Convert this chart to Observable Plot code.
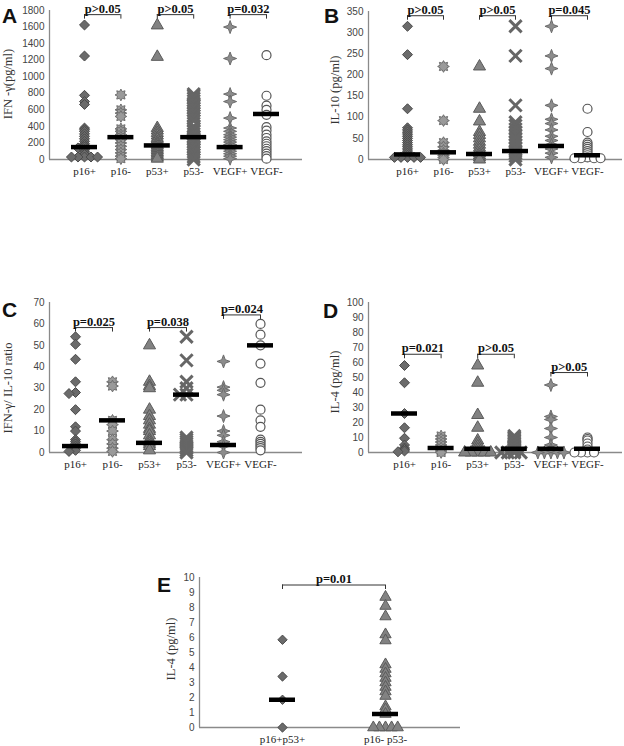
<!DOCTYPE html>
<html>
<head>
<meta charset="utf-8">
<script src="https://cdn.jsdelivr.net/npm/d3@7"></script>
<script src="https://cdn.jsdelivr.net/npm/@observablehq/plot@0.6"></script>
<style>
  html, body { margin: 0; padding: 0; background: #fff; }
  #fig { position: relative; width: 624px; height: 746px; overflow: hidden; }
  .panel { position: absolute; }
  .letter { position: absolute; font: bold 21px "Liberation Sans", Arial, sans-serif; line-height: 1; color: #111; }
  .ytitle { position: absolute; font: 12.5px "Liberation Serif", "Times New Roman", serif; color: #333; white-space: nowrap; transform: translate(-50%, -50%) rotate(-90deg); line-height: 1; }
</style>
</head>
<body>
<div id="fig"></div>
<script>
// ---------- categories ----------
const mainCats = ["p16+", "p16-", "p53+", "p53-", "VEGF+", "VEGF-"];
const eCats = ["p16+p53+", "p16- p53-"];
const mainPairs = [[0, 1], [2, 3], [4, 5]];
const ePairs = [[0, 1]];

// ---------- A: IFN-gamma (pg/ml) ----------
const ifnTicks = [0, 200, 400, 600, 800, 1000, 1200, 1400, 1600, 1800];
const ifnP16pos = [1625, 1250, 775, 700, 665, 380, 360, 340, 310, 280, 250, 220, 190, 170, 150, 140, 120, 100, 80, 60, 30, 30, 30, 30, 30];
const ifnP16neg = [780, 600, 560, 520, 370, 340, 300, 270, 240, 200, 160, 120, 80, 40, 10];
const ifnP53pos = [1620, 1240, 380, 350, 320, 290, 260, 240, 210, 190, 170, 150, 130, 110, 90, 70, 50, 30, 10];
const ifnP53neg = [790, 770, 740, 710, 680, 650, 620, 590, 560, 530, 500, 470, 400, 370, 340, 310, 280, 260, 240, 210, 180, 150, 120, 90, 60, 30, 0];
const ifnVegfPos = [1600, 1220, 790, 700, 500, 380, 340, 300, 270, 240, 210, 180, 150, 130, 100, 70, 40, 10];
const ifnVegfNeg = [1260, 770, 650, 600, 540, 390, 350, 300, 260, 220, 190, 160, 130, 100, 70, 40, 10];
const ifnMedians = [150, 270, 170, 270, 150, 550];
const ifnPLabels = ["p>0.05", "p>0.05", "p=0.032"];
const ifnPLevels = [1750, 1750, 1750];

// ---------- B: IL-10 (pg/ml) ----------
const il10Ticks = [0, 50, 100, 150, 200, 250, 300, 350];
const il10P16pos = [315, 248, 120, 75, 70, 65, 60, 55, 50, 45, 40, 35, 30, 25, 20, 15, 10, 5, 5, 5, 5, 5];
const il10P16neg = [220, 92, 40, 30, 22, 15, 10, 5, 0];
const il10P53pos = [220, 120, 90, 65, 58, 50, 42, 35, 28, 22, 15, 10, 5, 0];
const il10P53neg = [315, 245, 128, 88, 80, 72, 65, 58, 50, 42, 35, 28, 20, 15, 8, 0];
const il10VegfPos = [315, 245, 215, 128, 95, 85, 70, 55, 45, 35, 25, 15, 5];
const il10VegfNeg = [120, 65, 40, 35, 30, 25, 20, 15, 10, 5, 3, 3, 3, 3];
const il10Medians = [12, 17, 13, 20, 32, 10];
const il10PLabels = ["p>0.05", "p>0.05", "p=0.045"];
const il10PLevels = [340, 340, 340];

// ---------- C: IFN-gamma / IL-10 ratio ----------
const ratioTicks = [0, 10, 20, 30, 40, 50, 60, 70];
const ratioP16pos = [54, 50.5, 43.5, 33, 28, 27.5, 20, 12, 10, 6, 5, 4, 3, 2, 1, 0.5];
const ratioP16neg = [33, 31, 15, 13, 10, 6, 4, 2, 0.5];
const ratioP53pos = [50, 33, 31, 30, 20, 17, 15, 13, 11, 10, 8, 6, 5, 4, 3, 1];
const ratioP53neg = [54, 43, 33, 30, 27, 27, 7, 6, 5, 4, 3, 2, 1, 0];
const ratioVegfPos = [42.5, 30.5, 29, 27, 17, 10, 8, 5, 3, 0];
const ratioVegfNeg = [60, 55, 50, 41.5, 32.5, 20, 15, 12, 6, 5, 4, 3, 2, 1];
const ratioMedians = [3, 15, 4.5, 27, 3.5, 50];
const ratioPLabels = ["p=0.025", "p=0.038", "p=0.024"];
const ratioPLevels = [58.3, 58.3, 64.2];

// ---------- D: IL-4 (pg/ml) ----------
const il4Ticks = [0, 10, 20, 30, 40, 50, 60, 70, 80, 90, 100];
const il4P16pos = [58, 46.5, 26, 16.5, 9.5, 5, 3, 2, 1, 0.5];
const il4P16neg = [11, 9, 7, 5, 3, 1, 0];
const il4P53pos = [58, 46.5, 25, 16.5, 8, 6, 4, 2, 0, 0, 0, 0, 0];
const il4P53neg = [11, 10, 9, 8, 7, 6, 5, 4, 3, 2, 1, 0, 0, 0, 0];
const il4VegfPos = [45, 24, 22, 16, 10, 5, 2, 0, 0, 0, 0, 0];
const il4VegfNeg = [10, 9, 8, 6, 4, 2, 0, 0, 0, 0];
const il4Medians = [26, 3, 2.5, 2.5, 2.5, 2.5];
const il4PLabels = ["p=0.021", "p>0.05", "p>0.05"];
const il4PLevels = [65.5, 65.5, 53.3];

// ---------- E: IL-4 (pg/ml), combined groups ----------
const eTicks = [0, 1, 2, 3, 4, 5, 6, 7, 8, 9, 10];
const eP16posP53pos = [5.85, 3.4, 1.85, 0];
const eP16negP53neg = [8.7, 8.1, 7.4, 6.2, 5.8, 4.2, 3.9, 3.6, 3.3, 3.0, 2.7, 2.4, 2.1, 1.4, 1.2, 0.9, 0, 0, 0, 0, 0];
const eMedians = [1.85, 0.9];
const ePLabels = ["p=0.01"];
const ePLevels = [9.5];

// ---------- custom symbols ----------
function starSymbol(points, outer, inner) {
  return {
    draw(ctx, size) {
      const R = Math.sqrt(size / Math.PI) * outer, r0 = R * inner;
      for (let k = 0; k < points * 2; k++) {
        const a = k * Math.PI / points - Math.PI / 2;
        const rr = k % 2 ? r0 : R;
        const x = rr * Math.cos(a), y = rr * Math.sin(a);
        if (k === 0) ctx.moveTo(x, y); else ctx.lineTo(x, y);
      }
      ctx.closePath();
    }
  };
}
const star4 = starSymbol(4, 1.45, 0.38);
const star8 = starSymbol(8, 1.3, 0.62);

const mainStyles = [
  {symbol: "diamond2", fill: "#6b6b6b", stroke: "#4a4a4a", strokeWidth: 1},
  {symbol: star8, fill: "#9a9a9a", stroke: "#6f6f6f", strokeWidth: 1},
  {symbol: "triangle", fill: "#828282", stroke: "#5a5a5a", strokeWidth: 1},
  {symbol: "times", fill: "none", stroke: "#666666", strokeWidth: 3},
  {symbol: star4, fill: "#8c8c8c", stroke: "#6c6c6c", strokeWidth: 1},
  {symbol: "circle", fill: "#ffffff", stroke: "#555555", strokeWidth: 1.2}
];
const eStyles = [mainStyles[0], mainStyles[2]];

// simple beeswarm: spread only (near-)coincident points horizontally
function swarm(values, pxPerY, pxPerX, r) {
  const step = r * 1.45;
  const placed = [];
  const out = new Array(values.length);
  const order = d3.range(values.length).sort((a, b) => values[b] - values[a]);
  for (const i of order) {
    const py = values[i] * pxPerY;
    let off = 0;
    for (let n = 0; n < 40; n++) {
      const k = n === 0 ? 0 : (n % 2 ? -Math.ceil(n / 2) : n / 2);
      off = k * step;
      const hit = placed.some(p => Math.abs(p.x - off) < step * 0.9 && Math.abs(p.y - py) < 1.2);
      if (!hit) break;
    }
    placed.push({x: off, y: py});
    out[i] = off / pxPerX;
  }
  return out;
}

function makePanel(cfg) {
  const {cats, groups, styles, medians, pairs, pLabels, pLevels, yMax, ticks,
         width, height, mt, mb, ml, mr, xRange, r} = cfg;
  const n = cats.length;
  const pxPerX = (xRange[1] - xRange[0]) / (n - 1);
  const plotH = height - mt - mb;
  const pxPerY = plotH / yMax;
  const leftEdge = (ml - xRange[0]) / pxPerX;
  const hw = 13 / pxPerX;
  const leg = 4.5 / pxPerY;

  const marks = [
    Plot.ruleX([leftEdge], {stroke: "#8a8a8a", strokeWidth: 1.3}),
    Plot.ruleY([0], {stroke: "#8a8a8a", strokeWidth: 1.3}),
    Plot.axisY(ticks, {tickSize: 0, tickPadding: 5, label: null, fontSize: 10, tickFormat: d => String(d),
      fontFamily: "Liberation Sans, Arial, sans-serif", color: "#444"}),
    Plot.axisX(d3.range(n), {tickSize: 0, tickPadding: 8, label: null, tickFormat: i => cats[i],
      fontSize: 11, fontFamily: "Liberation Serif, Times New Roman, serif", color: "#222"})
  ];

  groups.forEach((vals, gi) => {
    const offs = swarm(vals, pxPerY, pxPerX, r);
    const data = vals.map((v, j) => ({x: gi + offs[j], y: v}));
    const st = styles[gi];
    marks.push(Plot.dot(data, {x: "x", y: "y", r: st.symbol === "times" ? r * 1.25 : r,
      symbol: st.symbol, fill: st.fill, stroke: st.stroke, strokeWidth: st.strokeWidth}));
  });

  marks.push(Plot.ruleY(medians, {y: d => d, x1: (d, i) => i - hw, x2: (d, i) => i + hw,
    stroke: "#000", strokeWidth: 4.5}));

  const br = pairs.map((p, i) => ({from: p[0], to: p[1], y: pLevels[i], label: pLabels[i]}));
  marks.push(Plot.ruleY(br, {y: "y", x1: "from", x2: "to", stroke: "#333", strokeWidth: 1}));
  marks.push(Plot.ruleX(br, {x: "from", y1: "y", y2: d => d.y - leg, stroke: "#333", strokeWidth: 1}));
  marks.push(Plot.ruleX(br, {x: "to", y1: "y", y2: d => d.y - leg, stroke: "#333", strokeWidth: 1}));
  marks.push(Plot.text(br, {x: d => (d.from + d.to) / 2, y: "y", text: "label", dy: -2,
    lineAnchor: "bottom", fontWeight: "bold", fontSize: 12.5,
    fontFamily: "Liberation Serif, Times New Roman, serif", fill: "#111"}));

  return Plot.plot({
    width, height, marginTop: mt, marginBottom: mb, marginLeft: ml, marginRight: mr,
    x: {domain: [0, n - 1], range: xRange, axis: null},
    y: {domain: [0, yMax], axis: null},
    style: {background: "transparent", overflow: "visible"},
    marks
  });
}

const panels = [
  {left: 0, top: 0, letter: "A", letterPos: [2, 5], title: "IFN -\u03b3(pg/ml)", titlePos: [8, 84],
   cfg: {cats: mainCats, groups: [ifnP16pos, ifnP16neg, ifnP53pos, ifnP53neg, ifnVegfPos, ifnVegfNeg],
     styles: mainStyles, medians: ifnMedians, pairs: mainPairs, pLabels: ifnPLabels, pLevels: ifnPLevels,
     yMax: 1800, ticks: ifnTicks, width: 310, height: 185, mt: 10, mb: 26, ml: 49, mr: 8, xRange: [84, 266], r: 4.5}},
  {left: 310, top: 0, letter: "B", letterPos: [324, 5], title: "IL-10 (pg/ml)", titlePos: [335, 90],
   cfg: {cats: mainCats, groups: [il10P16pos, il10P16neg, il10P53pos, il10P53neg, il10VegfPos, il10VegfNeg],
     styles: mainStyles, medians: il10Medians, pairs: mainPairs, pLabels: il10PLabels, pLevels: il10PLevels,
     yMax: 350, ticks: il10Ticks, width: 314, height: 185, mt: 11, mb: 26, ml: 58, mr: 2, xRange: [97, 277], r: 4.5}},
  {left: 0, top: 285, letter: "C", letterPos: [2, 299], title: "IFN-\u03b3/ IL-10 ratio", titlePos: [8, 388],
   cfg: {cats: mainCats, groups: [ratioP16pos, ratioP16neg, ratioP53pos, ratioP53neg, ratioVegfPos, ratioVegfNeg],
     styles: mainStyles, medians: ratioMedians, pairs: mainPairs, pLabels: ratioPLabels, pLevels: ratioPLevels,
     yMax: 70, ticks: ratioTicks, width: 310, height: 190, mt: 17, mb: 23, ml: 49, mr: 8, xRange: [75, 260], r: 4.5}},
  {left: 310, top: 285, letter: "D", letterPos: [323, 300], title: "IL-4 (pg/ml)", titlePos: [335, 382],
   cfg: {cats: mainCats, groups: [il4P16pos, il4P16neg, il4P53pos, il4P53neg, il4VegfPos, il4VegfNeg],
     styles: mainStyles, medians: il4Medians, pairs: mainPairs, pLabels: il4PLabels, pLevels: il4PLevels,
     yMax: 100, ticks: il4Ticks, width: 314, height: 190, mt: 17, mb: 23, ml: 58, mr: 2, xRange: [94, 277], r: 4.5}},
  {left: 140, top: 555, letter: "E", letterPos: [157, 574], title: "IL-4 (pg/ml)", titlePos: [171, 649],
   cfg: {cats: eCats, groups: [eP16posP53pos, eP16negP53neg],
     styles: eStyles, medians: eMedians, pairs: ePairs, pLabels: ePLabels, pLevels: ePLevels,
     yMax: 10, ticks: eTicks, width: 330, height: 191, mt: 22, mb: 19, ml: 59, mr: 10, xRange: [142, 245], r: 4.2}}
];

const fig = document.getElementById("fig");
for (const p of panels) {
  const div = document.createElement("div");
  div.className = "panel";
  div.style.left = p.left + "px";
  div.style.top = p.top + "px";
  div.appendChild(makePanel(p.cfg));
  fig.appendChild(div);

  const L = document.createElement("div");
  L.className = "letter";
  L.textContent = p.letter;
  L.style.left = p.letterPos[0] + "px";
  L.style.top = p.letterPos[1] + "px";
  fig.appendChild(L);

  const T = document.createElement("div");
  T.className = "ytitle";
  T.textContent = p.title;
  T.style.left = p.titlePos[0] + "px";
  T.style.top = p.titlePos[1] + "px";
  fig.appendChild(T);
}
</script>
</body>
</html>
